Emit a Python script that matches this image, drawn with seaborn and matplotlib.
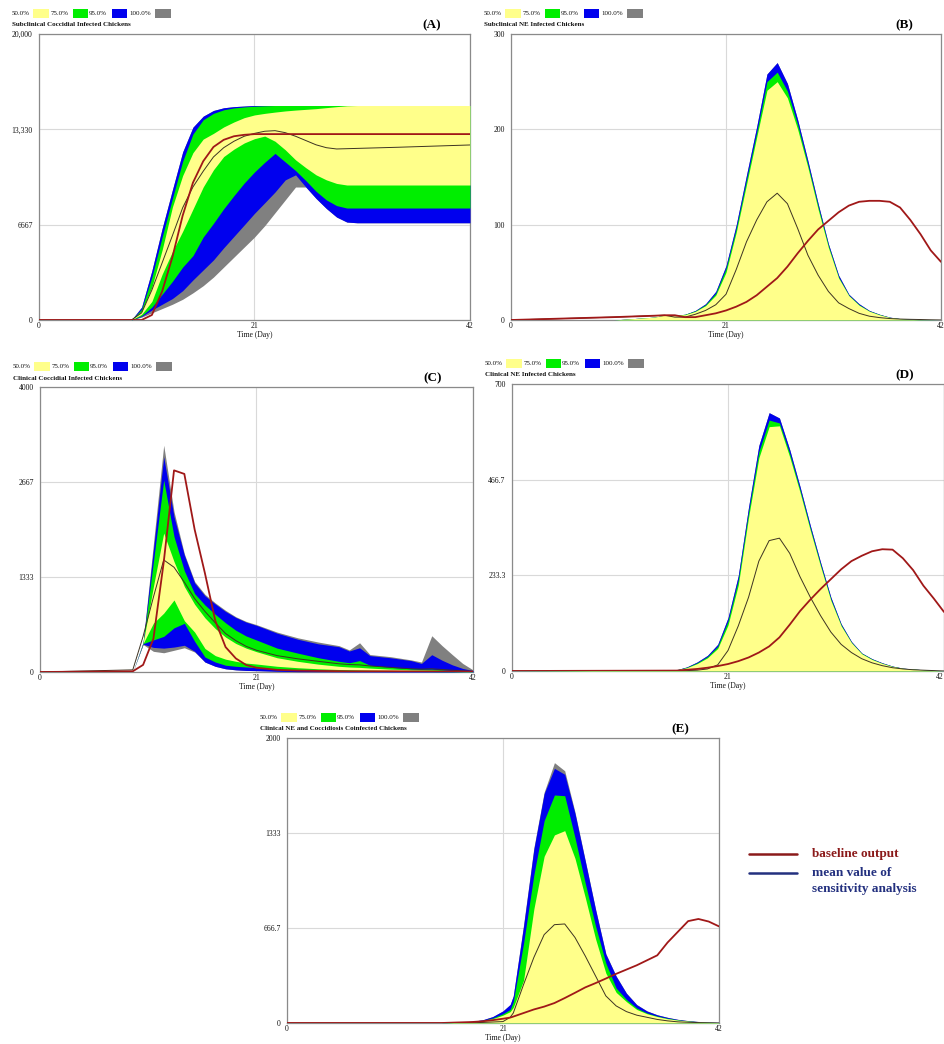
import numpy as np
import pandas as pd
import matplotlib
matplotlib.use("Agg")
import matplotlib.pyplot as plt
from matplotlib.patches import Rectangle
from matplotlib.lines import Line2D
import seaborn as sns

# ---------------- DATA ----------------
# Panel A: Subclinical Coccidial Infected Chickens
A_t = [0, 9, 10, 11, 12, 13, 14, 15, 16, 17, 18, 19, 20, 21, 22, 23, 24, 25, 26, 27, 28, 29, 30, 31, 35, 42]
A_gray_hi = [0, 0, 900, 3450, 6400, 9100, 11750, 13480, 14250, 14650, 14840, 14920, 14960, 15000, 15000, 15000, 15000, 15000, 15000, 15000, 15000, 15000, 15000, 15000, 15000, 15000]
A_blue_hi = [0, 0, 900, 3450, 6400, 9100, 11750, 13480, 14250, 14650, 14840, 14920, 14960, 15000, 15000, 15000, 15000, 15000, 15000, 15000, 15000, 15000, 15000, 15000, 15000, 15000]
A_green_hi = [0, 0, 750, 3000, 5800, 8500, 11100, 13000, 14000, 14450, 14700, 14830, 14900, 14950, 14980, 15000, 15000, 15000, 15000, 15000, 15000, 15000, 15000, 15000, 15000, 15000]
A_yellow_hi = [0, 0, 600, 2300, 4900, 7900, 10100, 11700, 12650, 13050, 13500, 13850, 14150, 14340, 14450, 14540, 14620, 14680, 14730, 14780, 14850, 14920, 14980, 15000, 15000, 15000]
A_yellow_lo = [0, 0, 400, 1300, 3200, 4780, 6200, 7750, 9300, 10500, 11430, 11950, 12380, 12680, 12860, 12500, 11900, 11200, 10650, 10150, 9800, 9550, 9440, 9440, 9440, 9440]
A_green_lo = [0, 0, 300, 900, 1800, 2700, 3700, 4500, 5800, 6760, 7780, 8700, 9580, 10350, 11030, 11650, 11050, 10450, 9750, 9000, 8400, 8000, 7830, 7830, 7830, 7830]
A_blue_lo = [0, 0, 250, 700, 1100, 1500, 2050, 2800, 3500, 4200, 5050, 5850, 6650, 7460, 8200, 8950, 9800, 10150, 9300, 8500, 7800, 7200, 6850, 6800, 6800, 6800]
A_gray_lo = [0, 0, 200, 500, 800, 1100, 1450, 1900, 2400, 3000, 3700, 4400, 5100, 5800, 6600, 7500, 8400, 9300, 9300, 8500, 7800, 7200, 6850, 6800, 6800, 6800]
A_mean = [0, 0, 500, 2100, 4000, 5900, 7850, 9300, 10400, 11400, 12050, 12500, 12850, 13050, 13200, 13240, 13100, 12850, 12550, 12250, 12050, 11960, 11980, 12000, 12080, 12240]
A_base = [0, 0, 0, 350, 2000, 4400, 7300, 9600, 11100, 12100, 12600, 12850, 12950, 13000, 13000, 13000, 13000, 13000, 13000, 13000, 13000, 13000, 13000, 13000, 13000, 13000]

# Panel B: Subclinical NE Infected Chickens
B_t = [0, 5, 10, 14, 15, 16, 17, 18, 19, 20, 21, 22, 23, 24, 25, 26, 27, 28, 29, 30, 31, 32, 33, 34, 35, 36, 37, 38, 39, 40, 41, 42]
B_gray_hi = [0, 0, 0, 3, 5, 5, 6, 10, 17, 30, 57, 100, 152, 203, 258, 270, 248, 210, 167, 122, 80, 47, 27, 17, 10, 6, 3, 1.5, 0.8, 0.4, 0.2, 0]
B_blue_hi = [0, 0, 0, 3, 5, 5, 6, 10, 17, 30, 57, 100, 152, 203, 258, 270, 248, 210, 167, 122, 80, 47, 27, 17, 10, 6, 3, 1.5, 0.8, 0.4, 0.2, 0]
B_green_hi = [0, 0, 0, 3, 5, 5, 6, 9.5, 16, 28, 54, 96, 147, 197, 250, 260, 240, 205, 163, 119, 78, 45, 26, 16, 9.5, 5.7, 2.8, 1.4, 0.7, 0.35, 0.2, 0]
B_yellow_hi = [0, 0, 0, 3, 5, 5, 5.5, 9, 15, 26, 50, 92, 142, 192, 241, 250, 233, 200, 160, 116, 76, 44, 25.5, 15.5, 9.2, 5.4, 2.7, 1.3, 0.6, 0.3, 0.15, 0]
B_lo = [0, 0, 0, 0, 0, 0, 0, 0, 0, 0, 0, 0, 0, 0, 0, 0, 0, 0, 0, 0, 0, 0, 0, 0, 0, 0, 0, 0, 0, 0, 0, 0]
B_mean = [0, 1.5, 3, 4.5, 5, 3, 3, 6, 10, 16, 27, 53, 82, 105, 124, 133, 122, 96, 68, 47, 30, 18, 12, 7, 4, 2.5, 1.5, 1, 0.7, 0.5, 0.2, 0]
B_base = [0, 1.5, 3, 4.5, 5, 5, 3, 3, 5, 7, 10, 14, 19, 26, 35, 44, 56, 70, 83, 95, 104, 113, 120, 124, 125, 125, 124, 118, 105, 90, 73, 61]

# Panel C: Clinical Coccidial Infected Chickens
C_t = [0, 9, 10, 11, 12, 13, 14, 15, 16, 17, 18, 19, 20, 21, 23, 25, 27, 29, 30, 31, 32, 34, 36, 37, 38, 39, 40, 41, 42]
C_gray_hi = [0, 0, 420, 1800, 3183, 2250, 1660, 1270, 1090, 970, 865, 775, 710, 665, 560, 480, 420, 370, 310, 410, 245, 215, 170, 140, 509, 370, 243, 120, 30]
C_blue_hi = [0, 0, 415, 1720, 3020, 2180, 1640, 1250, 1070, 955, 850, 765, 700, 655, 545, 460, 395, 355, 295, 340, 230, 200, 160, 120, 243, 165, 100, 50, 20]
C_green_hi = [0, 0, 410, 1550, 2693, 1900, 1420, 1100, 940, 810, 690, 585, 505, 449, 335, 265, 200, 150, 130, 160, 95, 65, 45, 40, 40, 30, 20, 10, 5]
C_yellow_hi = [0, 0, 405, 1200, 1950, 1550, 1200, 950, 760, 610, 490, 400, 335, 285, 200, 150, 110, 80, 70, 65, 55, 40, 30, 28, 25, 20, 12, 8, 5]
C_yellow_lo = [0, 0, 400, 686, 826, 1011, 720, 560, 330, 230, 180, 150, 125, 112, 80, 60, 45, 35, 32, 28, 25, 20, 15, 14, 12, 10, 7, 5, 3]
C_green_lo = [0, 0, 398, 450, 500, 620, 683, 430, 210, 140, 95, 80, 70, 60, 40, 30, 25, 20, 18, 17, 15, 12, 8, 7, 6, 5, 4, 3, 2]
C_blue_lo = [0, 0, 390, 345, 335, 350, 375, 290, 140, 80, 45, 30, 22, 19, 10, 5, 4, 3, 2, 2, 2, 1, 1, 1, 1, 0, 0, 0, 0]
C_gray_lo = [0, 0, 385, 290, 270, 305, 340, 280, 140, 80, 45, 30, 22, 19, 10, 5, 4, 3, 2, 2, 2, 1, 1, 1, 1, 0, 0, 0, 0]
C_mean = [0, 30, 500, 1050, 1573, 1470, 1260, 1030, 850, 690, 540, 440, 360, 305, 230, 185, 150, 115, 105, 100, 85, 65, 45, 40, 45, 35, 25, 15, 10]
C_base = [0, 10, 100, 466, 1540, 2830, 2780, 2000, 1385, 720, 350, 190, 98, 60, 30, 20, 15, 12, 10, 10, 10, 10, 8, 8, 8, 7, 6, 6, 5]

# Panel D: Clinical NE Infected Chickens
D_t = [0, 16, 17, 18, 19, 20, 21, 22, 23, 24, 25, 26, 27, 28, 29, 30, 31, 32, 33, 34, 35, 36, 37, 38, 39, 40, 41, 42]
D_gray_hi = [0, 3, 10, 22, 38, 65, 130, 233, 400, 550, 630, 617, 540, 450, 355, 265, 180, 115, 72, 44, 30, 20, 12, 7, 5, 3, 1.5, 0]
D_blue_hi = [0, 3, 10, 22, 38, 65, 130, 233, 400, 550, 630, 617, 540, 450, 355, 265, 180, 115, 72, 44, 30, 20, 12, 7, 5, 3, 1.5, 0]
D_green_hi = [0, 3, 9, 20, 35, 60, 122, 222, 388, 535, 612, 605, 530, 442, 348, 259, 175, 112, 70, 43, 29, 19, 11.5, 6.7, 4.8, 2.9, 1.4, 0]
D_yellow_hi = [0, 2.5, 8, 18, 32, 55, 112, 210, 375, 520, 596, 598, 522, 436, 343, 255, 172, 110, 69, 42, 28, 18.5, 11, 6.5, 4.6, 2.8, 1.3, 0]
D_lo = [0, 0, 0, 0, 0, 0, 0, 0, 0, 0, 0, 0, 0, 0, 0, 0, 0, 0, 0, 0, 0, 0, 0, 0, 0, 0, 0, 0]
D_mean = [0, 0, 1, 2, 5, 15, 50, 110, 180, 268, 318, 324, 287, 230, 180, 135, 95, 65, 45, 30, 20, 13, 8, 5, 3, 2, 1, 0]
D_base = [0, 1, 3, 5, 8, 12, 17, 24, 33, 45, 60, 82, 113, 146, 174, 200, 224, 248, 268, 281, 292, 297, 296, 275, 246, 208, 177, 144]

# Panel E: Clinical NE and Coccidiosis Coinfected Chickens
E_t = [0, 15, 18, 19, 20, 21, 21.7, 22, 23, 24, 25, 26, 27, 28, 29, 30, 31, 32, 33, 34, 35, 36, 37, 38, 39, 40, 41, 42]
E_gray_hi = [0, 0, 12, 22, 45, 85, 130, 190, 690, 1230, 1620, 1827, 1770, 1480, 1140, 800, 486, 330, 210, 130, 85, 58, 40, 26, 17, 11, 7, 4]
E_blue_hi = [0, 0, 12, 22, 45, 85, 130, 190, 680, 1220, 1610, 1787, 1745, 1470, 1135, 795, 483, 328, 208, 128, 84, 57, 39, 25, 16, 10, 6, 4]
E_green_hi = [0, 0, 10, 18, 35, 65, 95, 150, 560, 1040, 1420, 1600, 1595, 1300, 980, 680, 420, 245, 165, 105, 70, 48, 33, 22, 14, 9, 5, 3]
E_yellow_hi = [0, 0, 9, 16, 30, 55, 80, 110, 300, 800, 1170, 1320, 1350, 1155, 880, 590, 350, 215, 150, 95, 65, 45, 30, 20, 13, 8, 5, 3]
E_lo = [0, 0, 0, 0, 0, 0, 0, 0, 0, 0, 0, 0, 0, 0, 0, 0, 0, 0, 0, 0, 0, 0, 0, 0, 0, 0, 0, 0]
E_mean = [0, 0, 2, 4, 7, 10, 40, 70, 270, 460, 620, 690, 695, 600, 470, 330, 190, 120, 80, 55, 40, 25, 15, 8, 5, 3, 1, 0]
E_base = [0, 0, 7, 12, 20, 30, 38, 45, 70, 95, 115, 140, 175, 212, 250, 280, 312, 345, 375, 405, 440, 475, 565, 640, 715, 730, 712, 678]

# Axis ticks / titles
A_yticks = [0, 6667, 13330, 20000]
A_ylabels = ["0", "6667", "13,330", "20,000"]
B_yticks = [0, 100, 200, 300]
B_ylabels = ["0", "100", "200", "300"]
C_yticks = [0, 1333, 2667, 4000]
C_ylabels = ["0", "1333", "2667", "4000"]
D_yticks = [0, 233.3, 466.7, 700]
D_ylabels = ["0", "233.3", "466.7", "700"]
E_yticks = [0, 666.7, 1333, 2000]
E_ylabels = ["0", "666.7", "1333", "2000"]
x_ticks = [0, 21, 42]
x_labels = ["0", "21", "42"]
band_labels = ["50.0%", "75.0%", "95.0%", "100.0%"]
titles = ["Subclinical Coccidial Infected Chickens", "Subclinical NE Infected Chickens",
          "Clinical Coccidial Infected Chickens", "Clinical NE Infected Chickens",
          "Clinical NE and Coccidiosis Coinfected Chickens"]
letters = ["(A)", "(B)", "(C)", "(D)", "(E)"]
legend_labels = ["baseline output", "mean value of", "sensitivity analysis"]

# ---------------- STYLE ----------------
sns.set_theme(style="white")
plt.rcParams['font.family'] = ['Liberation Serif', 'DejaVu Serif']

YELLOW = '#FFFF8A'
GREEN = '#00EE00'
BLUE = '#0000EE'
GRAY = '#808080'
BASE_C = '#A01818'
MEAN_C = '#3d3322'
FRAME_C = '#8a8a8a'
GRID_C = '#d9d9d9'

W, H = 945, 1044
fig = plt.figure(figsize=(W / 100, H / 100), dpi=100)
fig.patch.set_facecolor('white')


def fx(x):
    return x / W


def fy(y):
    return 1 - y / H


def draw_panel(box, t, gh, bh, gnh, yh, yl, gnl, bl, gl, mean, base,
               yticks, ylabels, title, letter, last_right=False):
    L, T, R, B = box
    ax = fig.add_axes([fx(L), fy(B), (R - L) / W, (B - T) / H])
    ax.set_facecolor('white')
    ax.fill_between(t, gl, gh, color=GRAY, lw=0, zorder=2)
    ax.fill_between(t, bl, bh, color=BLUE, lw=0, zorder=3)
    ax.fill_between(t, gnl, gnh, color=GREEN, lw=0, zorder=4)
    ax.fill_between(t, yl, yh, color=YELLOW, lw=0, zorder=5)
    df = pd.DataFrame({'t': t, 'mean': mean, 'base': base})
    sns.lineplot(data=df, x='t', y='mean', ax=ax, color=MEAN_C, linewidth=0.7,
                 sort=False, legend=False, zorder=6)
    sns.lineplot(data=df, x='t', y='base', ax=ax, color=BASE_C, linewidth=1.3,
                 sort=False, legend=False, zorder=7)
    ax.set_xlim(0, 42)
    ax.set_ylim(0, yticks[-1])
    ax.set_xticks(x_ticks)
    ax.set_xticklabels(x_labels)
    ax.set_yticks(yticks)
    ax.set_yticklabels(ylabels)
    ax.tick_params(axis='both', length=0, labelsize=5.5, colors='#111111')
    ax.tick_params(axis='y', pad=4.5)
    ax.tick_params(axis='x', pad=1.5)
    if last_right:
        ax.get_xticklabels()[-1].set_horizontalalignment('right')
    ax.set_xlabel("Time (Day)", fontsize=5.5, labelpad=0.5, color='#111111')
    ax.set_ylabel("")
    ax.set_axisbelow(True)
    ax.grid(True, color=GRID_C, lw=0.8)
    for s in ax.spines.values():
        s.set_visible(True)
        s.set_color(FRAME_C)
        s.set_linewidth(0.9)

    # legend row
    yl_c = T - 20.5
    colors = [YELLOW, GREEN, BLUE, GRAY]
    text_x = [L - 27, L + 12, L + 50, L + 90]
    sw_x = [(L - 6, L + 10), (L + 34, L + 49), (L + 73, L + 88), (L + 116, L + 132)]
    for lab, tx, (s0, s1), c in zip(band_labels, text_x, sw_x, colors):
        fig.text(fx(tx), fy(yl_c), lab, fontsize=5, ha='left', va='center', color='#111111')
        fig.add_artist(Rectangle((fx(s0), fy(T - 16)), (s1 - s0) / W, 8.7 / H,
                                 transform=fig.transFigure, facecolor=c, edgecolor='none'))
    fig.text(fx(L - 27), fy(T - 9), title, fontsize=5, fontweight='bold',
             ha='left', va='center', color='#111111')
    fig.text(fx(L + 393), fy(T - 9), letter, fontsize=9.5, fontweight='bold',
             ha='center', va='center', color='black')
    return ax


draw_panel((39, 34, 470, 320), A_t, A_gray_hi, A_blue_hi, A_green_hi, A_yellow_hi,
           A_yellow_lo, A_green_lo, A_blue_lo, A_gray_lo, A_mean, A_base,
           A_yticks, A_ylabels, titles[0], letters[0])
draw_panel((511, 34, 941, 320), B_t, B_gray_hi, B_blue_hi, B_green_hi, B_yellow_hi,
           B_lo, B_lo, B_lo, B_lo, B_mean, B_base,
           B_yticks, B_ylabels, titles[1], letters[1])
draw_panel((40, 387, 473, 672), C_t, C_gray_hi, C_blue_hi, C_green_hi, C_yellow_hi,
           C_yellow_lo, C_green_lo, C_blue_lo, C_gray_lo, C_mean, C_base,
           C_yticks, C_ylabels, titles[2], letters[2])
draw_panel((512, 384, 944, 671), D_t, D_gray_hi, D_blue_hi, D_green_hi, D_yellow_hi,
           D_lo, D_lo, D_lo, D_lo, D_mean, D_base,
           D_yticks, D_ylabels, titles[3], letters[3], last_right=True)
draw_panel((287, 738, 719, 1023), E_t, E_gray_hi, E_blue_hi, E_green_hi, E_yellow_hi,
           E_lo, E_lo, E_lo, E_lo, E_mean, E_base,
           E_yticks, E_ylabels, titles[4], letters[4])

# bottom-right legend
fig.add_artist(Line2D([fx(749), fx(797)], [fy(854), fy(854)], transform=fig.transFigure,
                      color='#8B1A1A', lw=1.8))
fig.text(fx(812), fy(854), legend_labels[0], fontsize=9.5, fontweight='bold',
         color='#8B1A1A', ha='left', va='center')
fig.add_artist(Line2D([fx(749), fx(797)], [fy(873), fy(873)], transform=fig.transFigure,
                      color='#23307F', lw=1.8))
fig.text(fx(812), fy(873), legend_labels[1], fontsize=9.5, fontweight='bold',
         color='#23307F', ha='left', va='center')
fig.text(fx(812), fy(889), legend_labels[2], fontsize=9.5, fontweight='bold',
         color='#23307F', ha='left', va='center')

fig.savefig("out.png", dpi=100, facecolor='white')
